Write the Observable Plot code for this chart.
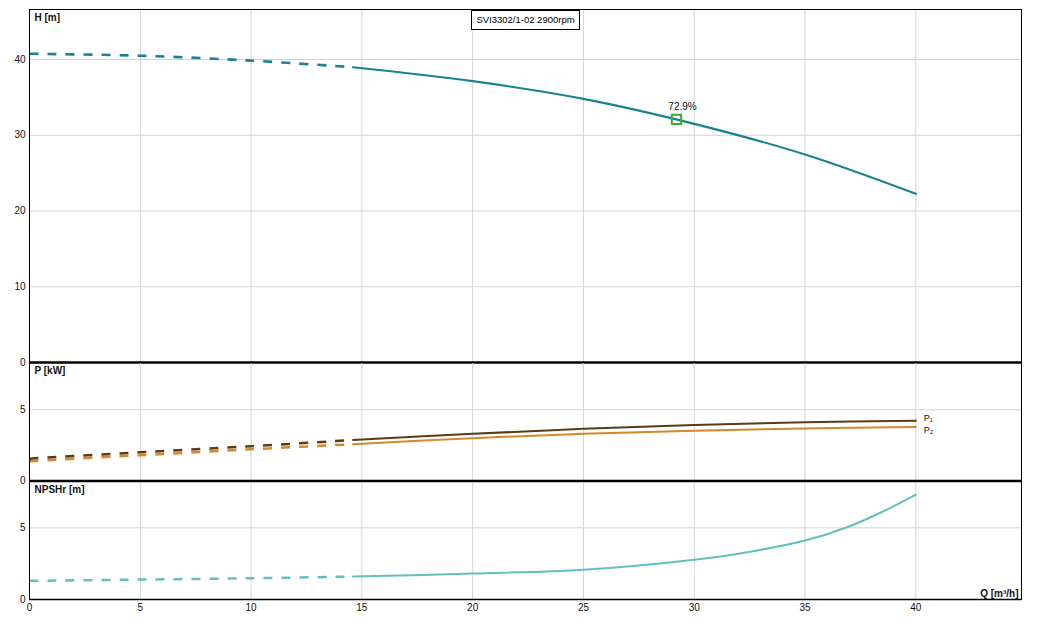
<!DOCTYPE html>
<html><head><meta charset="utf-8">
<script src="https://cdn.jsdelivr.net/npm/d3@7"></script>
<script src="https://cdn.jsdelivr.net/npm/@observablehq/plot@0.6"></script>
<style>
body{margin:0;background:#fff;font-family:"Liberation Sans",Arial,sans-serif;}
#wrap{position:relative;width:1040px;height:628px;}
#wrap svg{position:absolute;left:0;overflow:visible;background:transparent;}
#title{position:absolute;left:471px;top:10px;width:107px;height:18px;border:1px solid #000;background:#fff;
  font-size:9.5px;line-height:18px;text-align:center;color:#000;z-index:5;}
</style></head><body><div id="wrap"><div id="title"></div></div>
<script>
// ---- data ----
const flowQ   = [0, 5, 10, 14.6, 20, 25, 30, 35, 40];
const headH   = [40.75, 40.5, 39.85, 38.98, 37.14, 34.8, 31.5, 27.46, 22.27];
const powerP1 = [1.57, 2.02, 2.44, 2.88, 3.31, 3.66, 3.94, 4.12, 4.23];
const powerP2 = [1.39, 1.81, 2.23, 2.58, 3.01, 3.31, 3.53, 3.69, 3.80];
const npshQ   = [0, 5, 10, 14.6, 20, 25, 30, 32.4, 35, 36.9, 38.4, 40];
const npshR   = [1.30, 1.39, 1.48, 1.60, 1.81, 2.08, 2.78, 3.30, 4.11, 5.04, 6.05, 7.32];
const stableFrom = 14.6;
const bestPoint = {q: 29.2, h: 32.1, label: "72.9%"};
const xTicks = [0, 5, 10, 15, 20, 25, 30, 35, 40];
const hTicks = [0, 10, 20, 30, 40];
const pTicks = [0, 5];
const nTicks = [0, 5];
const chartTitle = "SVI3302/1-02 2900rpm";

const xDomain = [0, 44.77];
const font = '"Liberation Sans", Arial, sans-serif';
const grid = "#d3d3d3";
const cH = "#1a8293", cP1 = "#5a3b14", cP2 = "#d5882a", cN = "#62c0c0";
const dash = "9,9";

const rows = (qs, ys) => qs.map((q, i) => ({q, v: ys[i]}));
const dashed = d => d.filter(r => r.q <= stableFrom);
const solid = d => d.filter(r => r.q >= stableFrom);

const H = rows(flowQ, headH), P1 = rows(flowQ, powerP1), P2 = rows(flowQ, powerP2), N = rows(npshQ, npshR);

function lineMarks(data, color, w) {
  return [
    Plot.line(dashed(data), {x: "q", y: "v", stroke: color, strokeWidth: w + 0.5, strokeDasharray: dash, strokeLinecap: "butt", curve: "catmull-rom"}),
    Plot.line(solid(data), {x: "q", y: "v", stroke: color, strokeWidth: w, curve: "catmull-rom"})
  ];
}
function base(opts) {
  return {
    width: 1040, marginLeft: 29, marginRight: 19,
    x: {domain: xDomain, axis: null},
    style: {fontSize: "10px", fontFamily: font, background: "transparent", overflow: "visible", color: "#111"},
    ...opts
  };
}
const yAxis = ticks => Plot.axisY({ticks, tickSize: 0, tickPadding: 4, label: null, fontSize: 10});

const plotH = Plot.plot(base({
  height: 372, marginTop: 9, marginBottom: 10,
  y: {domain: [0, 46.6], axis: null},
  marks: [
    Plot.gridX(xTicks, {stroke: grid, strokeOpacity: 1}),
    Plot.gridY(hTicks, {stroke: grid, strokeOpacity: 1}),
    yAxis(hTicks),
    ...lineMarks(H, cH, 2.1),
    Plot.dot([bestPoint], {x: "q", y: "h", symbol: "square", r: 5.3, stroke: "#3aab36", strokeWidth: 2, fill: "none"}),
    Plot.text([bestPoint], {x: "q", y: "h", text: "label", dy: -13, dx: 6, fontSize: 10}),
    Plot.text(["H [m]"], {frameAnchor: "top-left", dx: 5, dy: 4, fontWeight: "bold", fontSize: 10}),
    Plot.frame({stroke: "#000"}),
    Plot.ruleY([0], {stroke: "#000", strokeWidth: 2.5})
  ]
}));
plotH.style.top = "0px";

const plotP = Plot.plot(base({
  height: 140, marginTop: 10, marginBottom: 11.5,
  y: {domain: [0, 8.32], axis: null},
  marks: [
    Plot.gridX(xTicks, {stroke: grid, strokeOpacity: 1}),
    Plot.gridY(pTicks, {stroke: grid, strokeOpacity: 1}),
    yAxis(pTicks),
    ...lineMarks(P2, cP2, 2),
    ...lineMarks(P1, cP1, 2),
    Plot.text([P1[P1.length - 1]], {x: "q", y: "v", text: () => "P₁", dx: 8, dy: -3, textAnchor: "start", fontSize: 9}),
    Plot.text([P2[P2.length - 1]], {x: "q", y: "v", text: () => "P₂", dx: 8, dy: 3, textAnchor: "start", fontSize: 9}),
    Plot.text(["P [kW]"], {frameAnchor: "top-left", dx: 5, dy: 4, fontWeight: "bold", fontSize: 10}),
    Plot.frame({stroke: "#000"}),
    Plot.ruleY([0], {stroke: "#000", strokeWidth: 2.5})
  ]
}));
plotP.style.top = "352px";

const plotN = Plot.plot(base({
  height: 157, marginTop: 10, marginBottom: 29,
  y: {domain: [0, 8.23], axis: null},
  marks: [
    Plot.gridX(xTicks, {stroke: grid, strokeOpacity: 1}),
    Plot.gridY(nTicks, {stroke: grid, strokeOpacity: 1}),
    yAxis(nTicks),
    Plot.axisX({ticks: xTicks, tickSize: 0, tickPadding: 4, label: null, fontSize: 10}),
    ...lineMarks(N, cN, 2),
    Plot.text(["NPSHr [m]"], {frameAnchor: "top-left", dx: 5, dy: 4, fontWeight: "bold", fontSize: 10}),
    Plot.text(["Q [m³/h]"], {frameAnchor: "bottom-right", dx: -3, dy: -3, fontWeight: "bold", fontSize: 10}),
    Plot.frame({stroke: "#000"}),
    Plot.ruleY([0], {stroke: "#000", strokeWidth: 1.5})
  ]
}));
plotN.style.top = "471px";

const wrap = document.getElementById("wrap");
wrap.append(plotH, plotP, plotN);
document.getElementById("title").textContent = chartTitle;
</script>
</body></html>
